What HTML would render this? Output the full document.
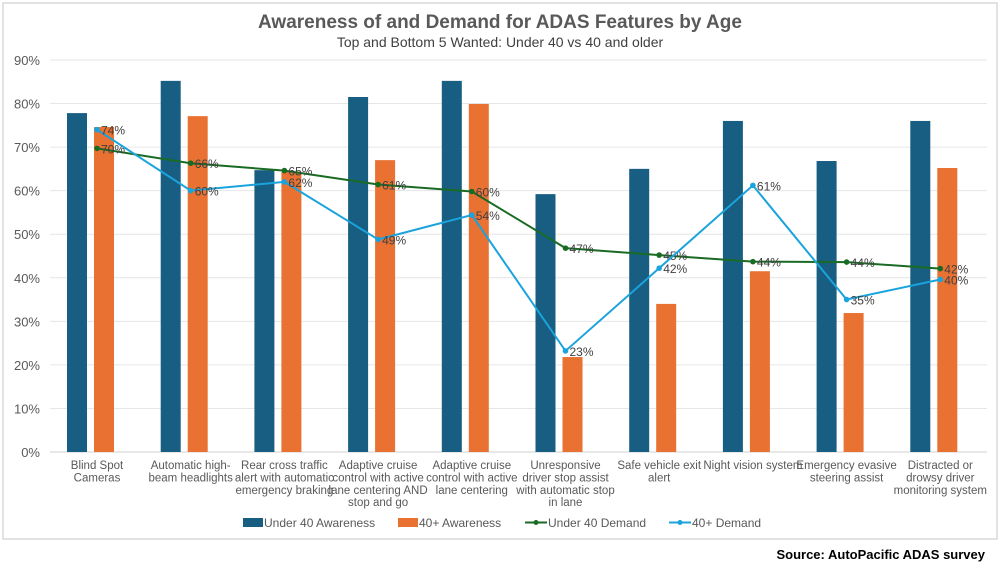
<!DOCTYPE html>
<html><head><meta charset="utf-8"><style>
body{margin:0;background:#fff;font-family:"Liberation Sans",Arial,sans-serif}
svg{display:block}
</style></head><body>
<svg id="c" width="1000" height="564" viewBox="0 0 1000 564" xmlns="http://www.w3.org/2000/svg">
<rect x="3" y="3" width="994" height="536" fill="#fff" stroke="#d9d9d9" stroke-width="1.5"/>
<text x="500" y="28" text-anchor="middle" font-size="19" font-weight="bold" fill="#595959">Awareness of and Demand for ADAS Features by Age</text>
<text x="500" y="47" text-anchor="middle" font-size="14" fill="#404040">Top and Bottom 5 Wanted: Under 40 vs 40 and older</text>
<g id="grid"></g><g id="bars"></g><g id="lines"></g><g id="xl"></g>
<g font-size="12" fill="#595959">
<rect x="243" y="518" width="20" height="9" fill="#175e82"/>
<text x="264" y="527">Under 40 Awareness</text>
<rect x="398" y="518" width="20" height="9" fill="#e97132"/>
<text x="419" y="527">40+ Awareness</text>
<line x1="525" y1="522.5" x2="547" y2="522.5" stroke="#196b24" stroke-width="2"/>
<circle cx="536" cy="522.5" r="2.5" fill="#196b24"/>
<text x="548" y="527">Under 40 Demand</text>
<line x1="669" y1="522.5" x2="691" y2="522.5" stroke="#1aa3dc" stroke-width="2"/>
<circle cx="680" cy="522.5" r="2.5" fill="#1aa3dc"/>
<text x="692" y="527">40+ Demand</text>
</g>
<text x="985" y="559" text-anchor="end" font-size="13" font-weight="bold" fill="#000">Source: AutoPacific ADAS survey</text>
</svg>
<script>
const categories=[["Blind Spot","Cameras"],["Automatic high-","beam headlights"],["Rear cross traffic","alert with automatic","emergency braking"],["Adaptive cruise","control with active","lane centering AND","stop and go"],["Adaptive cruise","control with active","lane centering"],["Unresponsive","driver stop assist","with automatic stop","in lane"],["Safe vehicle exit","alert"],["Night vision system"],["Emergency evasive","steering assist"],["Distracted or","drowsy driver","monitoring system"]];
const under40Awareness=[77.8,85.2,64.7,81.5,85.2,59.2,65,76,66.8,76];
const over40Awareness=[74.6,77.1,64.3,67,79.9,21.8,34,41.5,31.9,65.2];
const under40Demand=[69.7,66.3,64.6,61.4,59.8,46.8,45.2,43.7,43.6,42.1];
const over40Demand=[74,60,62,48.8,54.4,23.2,42.2,61.2,35,39.6];
const yTicks=[0,10,20,30,40,50,60,70,80,90];
const NS="http://www.w3.org/2000/svg";
const y=v=>452-v*4.356;
const cx=i=>97+i*93.7;
function mk(t,a,p,txt){const e=document.createElementNS(NS,t);for(const k in a)e.setAttribute(k,a[k]);if(txt!==undefined)e.textContent=txt;p.appendChild(e);return e;}
const G=document.getElementById('grid'),B=document.getElementById('bars'),L=document.getElementById('lines'),X=document.getElementById('xl');
yTicks.forEach(t=>{
 const l=mk('line',{x1:50,x2:987,y1:y(t),y2:y(t),stroke:t===0?'#d0d0d0':'#e6e6e6','stroke-width':1},G);
 
 
 const tx=mk('text',{x:40,y:y(t)+5,'text-anchor':'end','font-size':13,fill:'#595959'},G,t+'%');
 
 
});
categories.forEach((c,i)=>{
 const b1=mk('rect',{x:cx(i)-30,y:y(under40Awareness[i]),width:20,height:452-y(under40Awareness[i]),fill:'#175e82'},B);
 
 
 const b2=mk('rect',{x:cx(i)-3,y:y(over40Awareness[i]),width:20,height:452-y(over40Awareness[i]),fill:'#e97132'},B);
 
 
 const t=mk('text',{'text-anchor':'middle','font-size':11.5,fill:'#595959'},X);
 
 
 c.forEach((s,j)=>mk('tspan',{x:cx(i),y:469+j*12.4},t,s));
});
function series(vals,col,name){
 const p=mk('polyline',{points:vals.map((v,i)=>cx(i)+','+y(v)).join(' '),fill:'none',stroke:col,'stroke-width':2},L);
 
 
 vals.forEach((v,i)=>{
  const d=mk('circle',{cx:cx(i),cy:y(v),r:2.8,fill:col},L);
  
  
  const t=mk('text',{x:cx(i)+4,y:y(v)+5,'font-size':12,fill:'#404040'},L,Math.round(v)+'%');
  
  
 });
}
series(under40Demand,'#196b24','under40-demand');
series(over40Demand,'#1aa3dc','40plus-demand');
</script>
</body></html>
